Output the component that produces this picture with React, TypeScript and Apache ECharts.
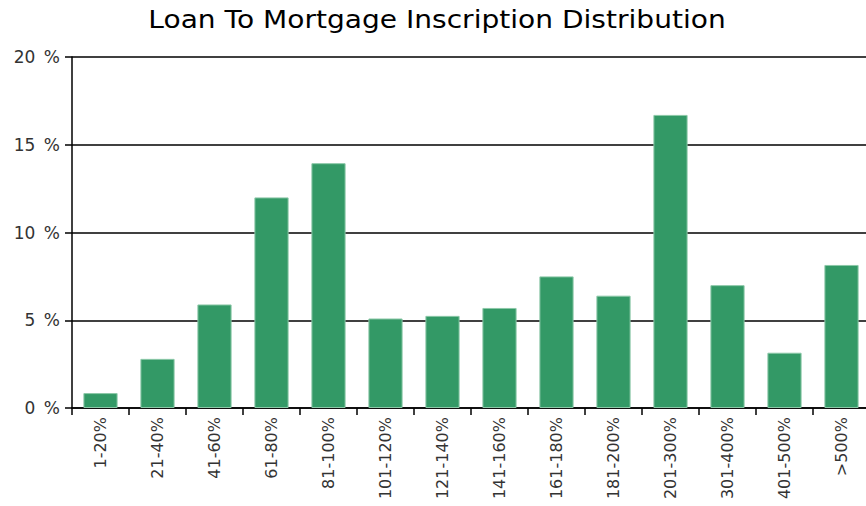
import React, { useEffect, useRef } from "react";
import * as echarts from "echarts";

const chartTitle = "Loan To Mortgage Inscription Distribution";
const categories = [
  "1-20%", "21-40%", "41-60%", "61-80%", "81-100%", "101-120%", "121-140%",
  "141-160%", "161-180%", "181-200%", "201-300%", "301-400%", "401-500%", ">500%",
];
const shares = [0.85, 2.8, 5.9, 12.0, 13.95, 5.1, 5.25, 5.7, 7.5, 6.4, 16.7, 7.0, 3.15, 8.15];
const yTicks = [0, 5, 10, 15, 20];

export default function App() {
  const ref = useRef<HTMLDivElement>(null);
  useEffect(() => {
    if (!ref.current) return;
    const chart = echarts.init(ref.current, null, { renderer: "svg" });
    const font = "DejaVu Sans";
    chart.setOption({
      animation: false,
      backgroundColor: "#ffffff",
      graphic: [
        {
          type: "text",
          x: 437,
          y: 20,
          scaleX: 1.17,
          style: {
            text: chartTitle,
            fontFamily: font,
            fontSize: 24,
            fill: "#000",
            textAlign: "center",
            textVerticalAlign: "middle",
          },
        },
      ],
      grid: { left: 72, top: 57, width: 798, height: 351, containLabel: false },
      xAxis: {
        type: "category",
        data: categories,
        axisLine: { lineStyle: { color: "#000", width: 1.5 } },
        axisTick: { show: true, length: 7, lineStyle: { color: "#000", width: 1.5 } },
        axisLabel: { rotate: 90, margin: 9, fontFamily: font, fontSize: 16, color: "#333" },
      },
      yAxis: {
        type: "value",
        min: yTicks[0],
        max: yTicks[yTicks.length - 1],
        interval: 5,
        axisLine: { show: true, lineStyle: { color: "#000", width: 1.5 } },
        axisTick: { show: true, length: 7, lineStyle: { color: "#000", width: 1.5 } },
        axisLabel: {
          margin: 12,
          fontFamily: font,
          fontSize: 17,
          color: "#333",
          formatter: (v: number) => v + "\u2002%",
        },
        splitLine: { show: true, lineStyle: { color: "#000", width: 1.5 } },
      },
      series: [
        {
          type: "bar",
          data: shares,
          barCategoryGap: "40%",
          itemStyle: { color: "#339966", borderColor: "#8cc8a8", borderWidth: 1 },
        },
      ],
    });
    return () => chart.dispose();
  }, []);
  return (
    <div style={{ position: "fixed", left: 0, top: 0, width: 866, height: 506, overflow: "hidden", background: "#fff" }}>
      <div ref={ref} style={{ width: 880, height: 506 }} />
    </div>
  );
}
